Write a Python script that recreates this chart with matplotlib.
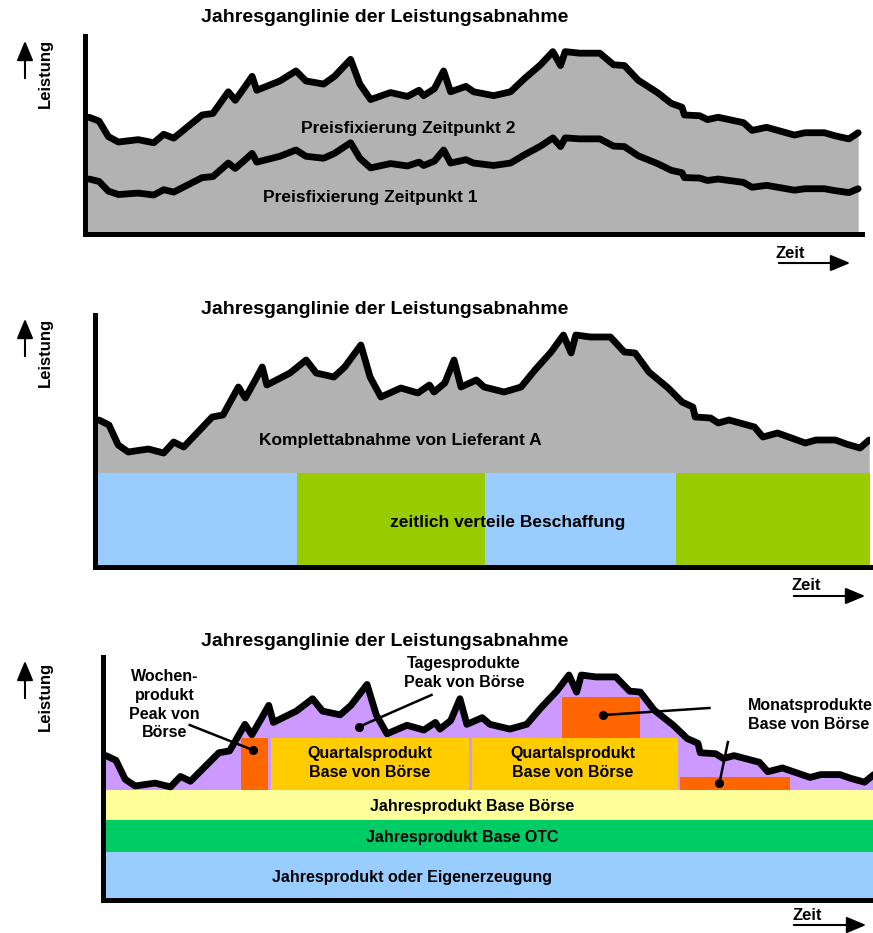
import matplotlib
matplotlib.use('Agg')
import matplotlib.pyplot as plt

plt.rcParams['font.family'] = ['Liberation Sans', 'DejaVu Sans']
plt.rcParams['font.weight'] = 'bold'

W, H = 873, 933

# Jahresganglinie: Zeit in % des Jahres, Leistung in % vom Maximum
zeit = [0, 1.3, 2.5, 3.8, 6.4, 8.4, 9.7, 11.0, 14.7, 16.1,
        18.1, 19.0, 20.3, 21.2, 21.8, 24.8, 26.9, 28.2, 30.5, 31.9,
        34.0, 35.2, 36.6, 39.2, 41.4, 42.9, 43.5, 44.9, 46.1, 47.0,
        49.0, 50.0, 52.6, 54.8, 56.6, 58.7, 60.3, 61.3, 61.9, 63.8,
        66.4, 68.2, 69.6, 71.4, 73.9, 75.7, 77.1, 77.4, 79.4, 80.4,
        81.8, 85.1, 86.2, 88.1, 91.7, 93.1, 95.6, 97.0, 98.8, 100]
leistung = [58.4, 56.4, 48.4, 45.6, 46.8, 45.2, 49.6, 47.6, 59.6, 60.4,
            71.6, 67.2, 74.4, 79.6, 72.4, 77.2, 82.4, 77.2, 75.6, 79.6,
            88.4, 75.6, 67.6, 71.2, 69.2, 72.4, 69.6, 73.2, 82.4, 71.6,
            74.4, 71.6, 69.6, 71.6, 78.4, 85.6, 92.4, 85.2, 92.4, 91.6,
            91.6, 85.6, 85.2, 77.6, 71.2, 65.6, 63.6, 59.6, 59.2, 57.2,
            58.4, 55.6, 51.6, 53.2, 49.2, 50.4, 50.4, 48.8, 47.2, 50.4]

# zeitlich verteilte Beschaffung (Tranchen)
tranche_von = [-1, 25.7, 50.1, 74.9]
tranche_bis = [25.7, 50.1, 74.9, 101]
tranche_farbe = ['#99CCFF', '#99CC00', '#99CCFF', '#99CC00']
tranche_hoehe = 37.2

# Jahresbaender (unten nach oben)
band_name = ['Jahresprodukt oder Eigenerzeugung', 'Jahresprodukt Base OTC',
             'Jahresprodukt Base Börse']
band_von = [-3, 17.7, 31.2]
band_bis = [17.7, 31.2, 43.9]
band_farbe = ['#99CCFF', '#00CC66', '#FFFF99']

# strukturierte Produkte: (von, bis) Zeit, (unten, oben) Leistung
produkt_name = ['Wochenprodukt', 'Quartal 1', 'Quartal 2', 'Monat 1', 'Monat 2']
produkt_t0 = [17.6, 21.5, 47.7, 59.4, 74.7]
produkt_t1 = [21.1, 47.3, 74.5, 69.5, 89.1]
produkt_l0 = [43.9, 43.9, 43.9, 65.8, 43.9]
produkt_l1 = [65.8, 65.8, 65.8, 83.1, 49.4]
produkt_farbe = ['#FF6600', '#FFCC00', '#FFCC00', '#FF6600', '#FF6600']

GRAU = '#B2B2B2'
LILA = '#CC99FF'
LW = 4.9


def px(x, y):
    return x / W, 1 - y / H


def make_ax(left, top, right, bottom):
    ax = fig.add_axes([left / W, 1 - bottom / H, (right - left) / W, (bottom - top) / H])
    ax.patch.set_alpha(0)
    for s in ['top', 'right']:
        ax.spines[s].set_visible(False)
    for s in ['left', 'bottom']:
        ax.spines[s].set_linewidth(3.6)
        ax.spines[s].set_capstyle('projecting')
        ax.spines[s].set_zorder(6)
    ax.set_xticks([])
    ax.set_yticks([])
    return ax


def flaeche(ax, unten, farbe):
    # Flaeche bis an die linke Achse heranziehen
    x0 = ax.get_xlim()[0]
    ax.fill_between([x0] + zeit, [leistung[0]] + leistung, unten, color=farbe, lw=0)


def kurve(ax, **kw):
    ax.plot(zeit, leistung, color='black', lw=LW, solid_joinstyle='round',
            solid_capstyle='round', **kw)


def achsen_beschriftung(y_pfeil, y_leistung, x_zeit, y_zeit, y_zeitpfeil, x_pfeil0, x_pfeil1):
    fig.text(*px(45, y_leistung), 'Leistung', rotation=90, ha='center', va='center', fontsize=12)
    fig.add_artist(matplotlib.patches.FancyArrowPatch(
        px(25, y_pfeil + 43), px(25, y_pfeil), transform=fig.transFigure,
        arrowstyle='-|>,head_length=1.2,head_width=0.5', mutation_scale=10,
        lw=1.5, color='black'))
    fig.text(*px(x_zeit, y_zeit), 'Zeit', ha='center', va='center', fontsize=12)
    fig.add_artist(matplotlib.patches.FancyArrowPatch(
        px(x_pfeil0, y_zeitpfeil), px(x_pfeil1, y_zeitpfeil), transform=fig.transFigure,
        arrowstyle='-|>,head_length=1.2,head_width=0.5', mutation_scale=10,
        lw=1.5, color='black'))


def titel(y):
    fig.text(*px(385, y), 'Jahresganglinie der Leistungsabnahme',
             ha='center', va='center', fontsize=14)


fig = plt.figure(figsize=(W / 100, H / 100), dpi=100)

# --- Preisfixierung zu zwei Zeitpunkten ---
ax1 = make_ax(84.5, 36, 862, 233.5)
ax1.set_xlim(-0.6, 100.5)
ax1.set_ylim(-1.8, 100.5)
flaeche(ax1, -5, GRAU)
kurve(ax1)
ax1b = ax1.twinx()
ax1b.set_ylim(13.4, 176.6)
ax1b.axis('off')
kurve(ax1b)
ax1.text(41.5, 52.8, 'Preisfixierung Zeitpunkt 2', ha='center', va='center', fontsize=12.5)
ax1.text(36.5, 16.6, 'Preisfixierung Zeitpunkt 1', ha='center', va='center', fontsize=12.5)
titel(17)
achsen_beschriftung(38, 73, 790, 253, 263, 776, 853)

# --- Komplettabnahme / zeitlich verteilte Beschaffung ---
ax2 = make_ax(94.5, 315, 870, 566.5)
ax2.set_xlim(-0.58, 100.1)
ax2.set_ylim(-0.2, 100.4)
flaeche(ax2, -5, GRAU)
ax2.bar(tranche_von, tranche_hoehe, width=[b - a for a, b in zip(tranche_von, tranche_bis)],
        bottom=0, align='edge', color=tranche_farbe, lw=0)
kurve(ax2)
ax2.text(39.1, 50, 'Komplettabnahme von Lieferant A', ha='center', va='center', fontsize=12.5)
ax2.text(53.1, 17.2, 'zeitlich verteile Beschaffung', ha='center', va='center', fontsize=12.5)
titel(309)
achsen_beschriftung(316, 352, 806, 585, 596, 791, 868)

# --- strukturierte Beschaffung ---
ax3 = make_ax(103, 657, 873, 899.5)
ax3.set_xlim(-0.39, 99.9)
ax3.set_ylim(-2.3, 100)
flaeche(ax3, band_bis[-1], LILA)
ax3.bar([-1] * 3, [b - a for a, b in zip(band_von, band_bis)], width=102, bottom=band_von,
        align='edge', color=band_farbe, lw=0)
ax3.bar(produkt_t0, [b - a for a, b in zip(produkt_l0, produkt_l1)],
        width=[b - a for a, b in zip(produkt_t0, produkt_t1)], bottom=produkt_l0,
        align='edge', color=produkt_farbe, lw=0, zorder=2)
kurve(ax3, zorder=3)

fs3 = 11.5
ax3.text(39.8, 6.8, band_name[0], ha='center', va='center', fontsize=fs3)
ax3.text(46.4, 24.0, band_name[1], ha='center', va='center', fontsize=fs3)
ax3.text(47.7, 37.1, band_name[2], ha='center', va='center', fontsize=fs3)
for xq in [34.4, 60.8]:
    ax3.text(xq, 55.3, 'Quartalsprodukt\nBase von Börse', ha='center', va='center',
             fontsize=fs3, linespacing=1.3, zorder=4)

# Hinweislinien mit Punkt
hinweise = [((10.9, 71.3), (19.1, 60.8)),
            ((42.4, 84.0), (32.9, 70.5)),
            ((78.6, 78.5), (64.7, 75.5)),
            ((81.0, 64.1), (79.9, 46.8))]
for (x0, y0), (x1, y1) in hinweise:
    ax3.plot([x0, x1], [y0, y1], color='black', lw=1.8, zorder=5, clip_on=False)
    ax3.plot(x1, y1, 'o', color='black', ms=5.5, zorder=5)

ax3.text(7.6, 79.8, 'Wochen-\nprodukt\nPeak von\nBörse', ha='center', va='center',
         fontsize=fs3, linespacing=1.3)
ax3.text(46.6, 93.3, 'Tagesprodukte\nPeak von Börse', ha='center', va='center',
         fontsize=fs3, linespacing=1.3)
ax3.text(83.6, 75.5, 'Monatsprodukte\nBase von Börse', ha='left', va='center', fontsize=fs3,
         linespacing=1.3, clip_on=False)
titel(641)
achsen_beschriftung(658, 696, 807, 915, 925, 791, 869)

fig.savefig('out.png', dpi=100)
